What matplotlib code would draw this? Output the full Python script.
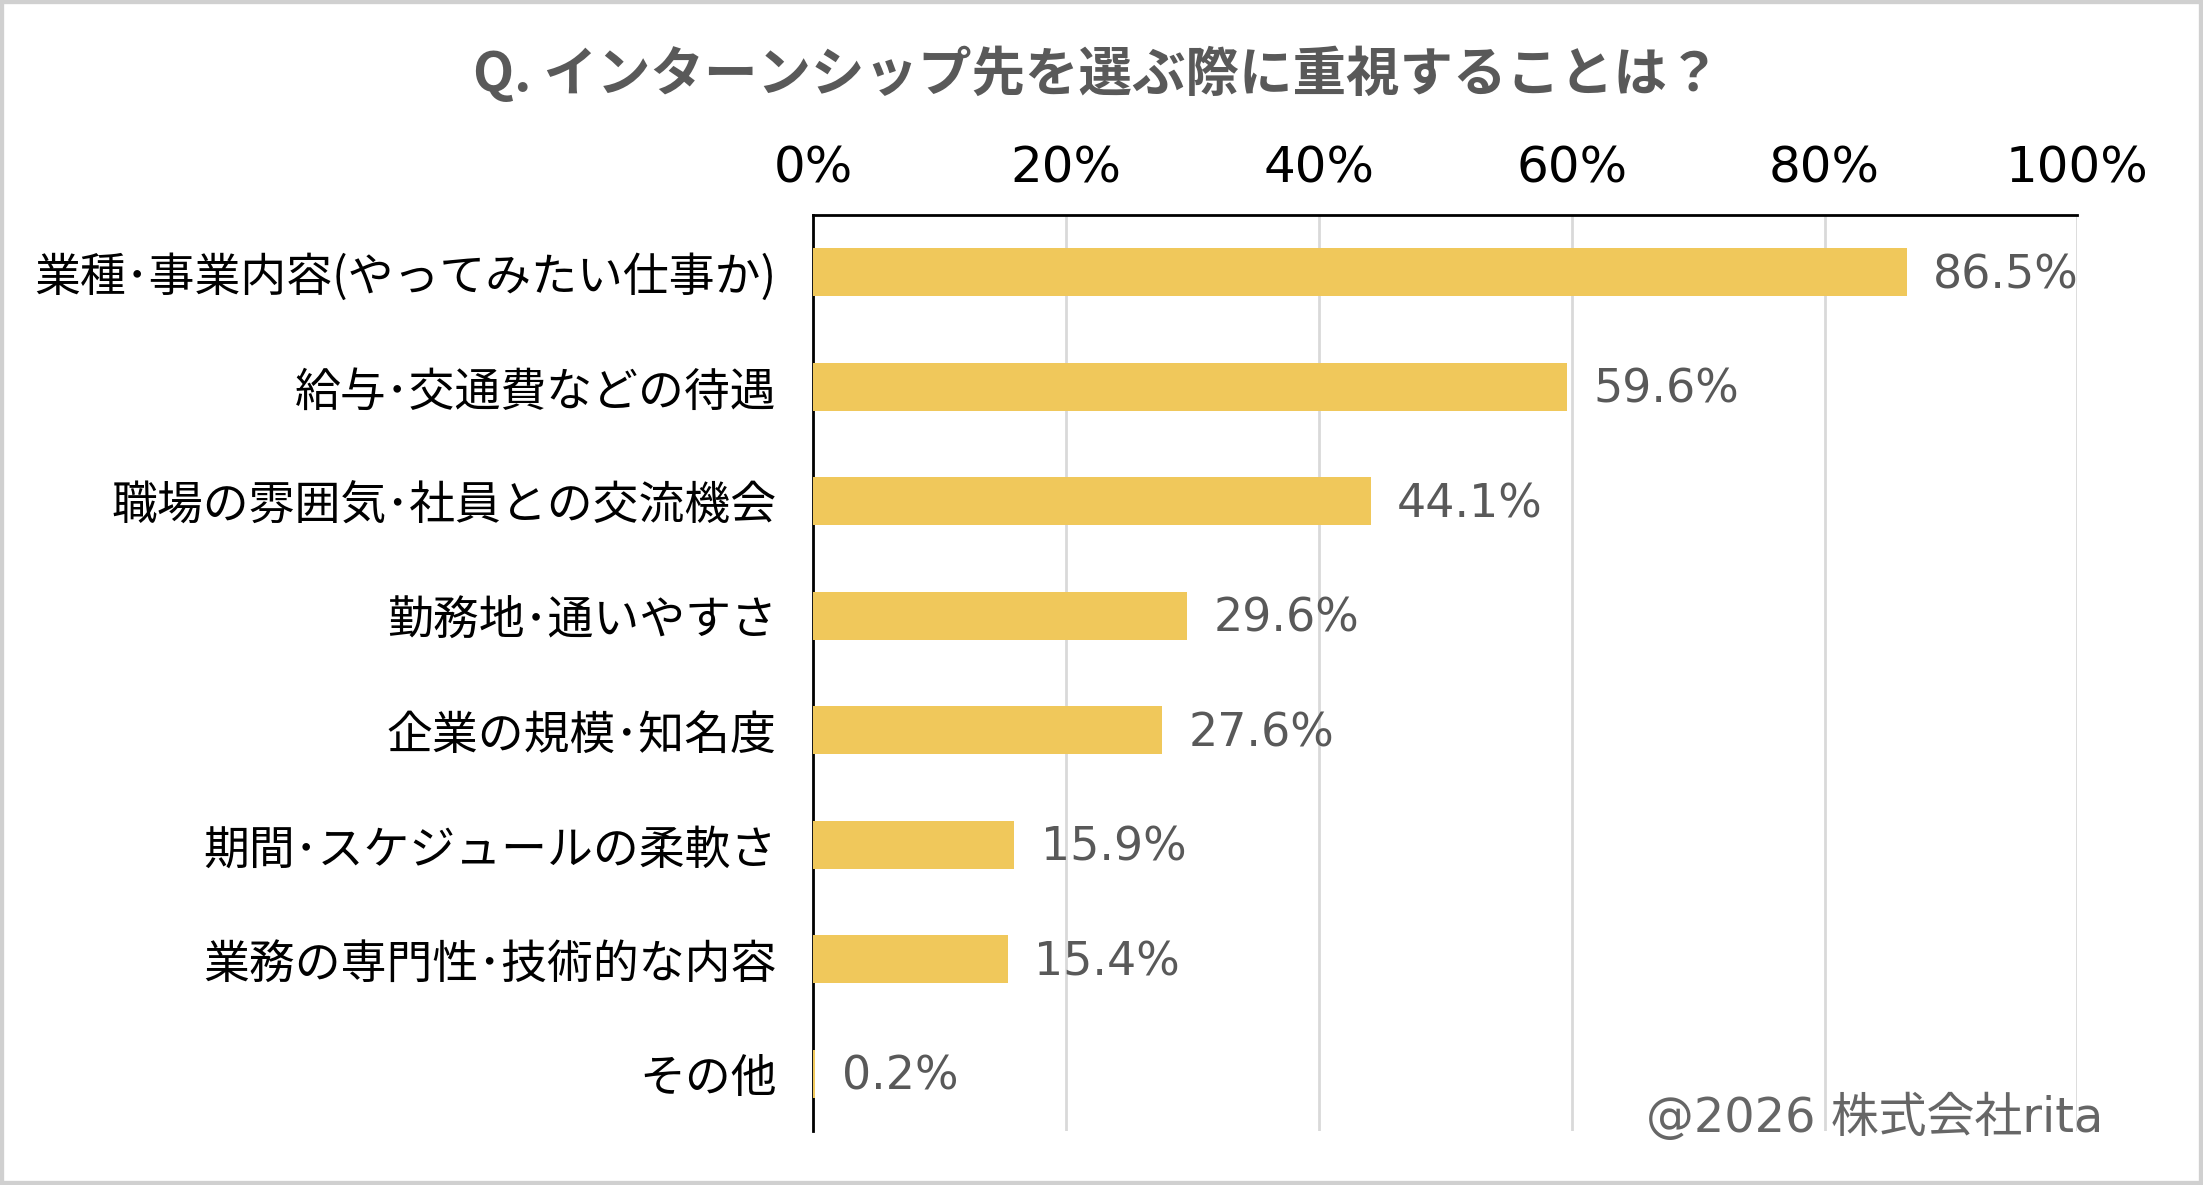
import matplotlib.pyplot as plt
from matplotlib.patches import Rectangle

plt.rcParams['font.family'] = ['Noto Sans CJK JP', 'DejaVu Sans']
num_font = ['DejaVu Sans', 'Noto Sans CJK JP']

# data
categories = ['業種･事業内容(やってみたい仕事か)', '給与･交通費などの待遇', '職場の雰囲気･社員との交流機会',
              '勤務地･通いやすさ', '企業の規模･知名度', '期間･スケジュールの柔軟さ',
              '業務の専門性･技術的な内容', 'その他']
values = [86.5, 59.6, 44.1, 29.6, 27.6, 15.9, 15.4, 0.2]
xticks = [0, 20, 40, 60, 80, 100]

bar_color = '#F0C85B'
grey_text = '#595959'

fig = plt.figure(figsize=(22.03, 11.85), dpi=100, facecolor='white')
ax = fig.add_axes([0.369, 0.0456, 0.574, 0.773])

y = list(range(len(categories)))
ax.barh(y, values, height=0.42, color=bar_color, zorder=3)
for yi, v in zip(y, values):
    ax.text(v + 2.1, yi + 0.03, f'{v:.1f}%', va='center', ha='left', fontsize=33,
            color=grey_text, family=num_font)

ax.set_xlim(0, 100)
ax.set_ylim(len(categories) - 0.5, -0.5)
ax.set_yticks(y)
ax.set_yticklabels(categories, fontsize=33, color='black')
ax.set_xticks(xticks)
ax.set_xticklabels([f'{t}%' for t in xticks], fontsize=36, color='black', family=num_font)
ax.xaxis.tick_top()
ax.tick_params(axis='x', length=0, pad=16)
ax.tick_params(axis='y', length=0, pad=26)

ax.grid(axis='x', color='#d9d9d9', linewidth=2, zorder=0)
for s in ['right', 'bottom']:
    ax.spines[s].set_visible(False)
for s in ['left', 'top']:
    ax.spines[s].set_color('black')
    ax.spines[s].set_linewidth(2)
ax.spines['top'].set_zorder(4)
ax.spines['left'].set_zorder(2.5)

fig.text(0.498, 0.937, 'Q. インターンシップ先を選ぶ際に重視することは？', ha='center', va='center',
         fontsize=38.5, fontweight='bold', color=grey_text)
fig.text(0.955, 0.057, '@2026 株式会社rita', ha='right', va='center', fontsize=34.5,
         color='#666666', family=num_font)

fig.patches.append(Rectangle((0, 0), 1, 1, transform=fig.transFigure, fill=False,
                             edgecolor='#d0d0d0', linewidth=6))

fig.savefig('out.png', dpi=100, facecolor='white')
